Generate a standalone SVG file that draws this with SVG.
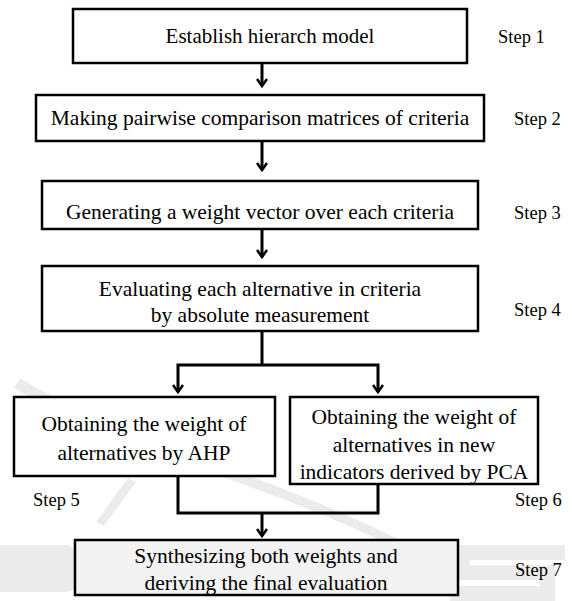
<svg xmlns="http://www.w3.org/2000/svg" width="572" height="601" viewBox="0 0 572 601">
<style>
.box{fill:#fff;stroke:#000;stroke-width:2.5}
.c{fill:none;stroke:#000;stroke-width:3}
.wm{fill:#ebebeb}
</style>
<defs>
<marker id="ah" viewBox="0 0 12 12" refX="9" refY="6" markerWidth="12" markerHeight="12" markerUnits="userSpaceOnUse" orient="auto-start-reverse">
<polyline points="2,1 9,6 2,11" fill="none" stroke="#000" stroke-width="2.6"/>
</marker>
</defs>
<g id="watermark">
<path d="M20,378 C120,440 260,470 400,540 L396,548 C255,478 115,450 14,388 Z" class="wm"/>
<path d="M96,522 L128,478 L136,482 L104,526 Z" class="wm"/>
<path d="M0,545 L62,545 Q80,545 80,562 L80,575 Q80,592 62,592 L0,592 Z" class="wm"/>
<path d="M450,545 L565,545 L565,560 L470,560 L470,565 L555,565 L555,601 L450,601 L450,586 L540,586 L540,580 L450,580 Z" class="wm"/>
</g>
<g id="connectors">
<line class="c" x1="262" y1="63" x2="262" y2="86" marker-end="url(#ah)"/>
<line class="c" x1="262" y1="141" x2="262" y2="170" marker-end="url(#ah)"/>
<line class="c" x1="262" y1="229" x2="262" y2="257" marker-end="url(#ah)"/>
<polyline class="c" points="262,331 262,365"/>
<polyline class="c" points="178,392 178,365 378,365 378,392" marker-start="url(#ah)" marker-end="url(#ah)"/>
<polyline class="c" points="178,476 178,513 378,513 378,484"/>
<line class="c" x1="262" y1="513" x2="262" y2="536" marker-end="url(#ah)"/>
</g>
<g id="step1">
<rect class="box" x="73" y="9" width="394" height="54"/>
<text font-family="Liberation Serif" font-size="21" text-anchor="middle" x="270" y="43">Establish hierarch model</text>
<text font-family="Liberation Serif" font-size="18.5" x="498" y="43">Step 1</text>
</g>
<g id="step2">
<rect class="box" x="36" y="95" width="448" height="46"/>
<text font-family="Liberation Serif" font-size="21.5" text-anchor="middle" x="260" y="125">Making pairwise comparison matrices of criteria</text>
<text font-family="Liberation Serif" font-size="18.5" x="514" y="125">Step 2</text>
</g>
<g id="step3">
<rect class="box" x="42" y="181" width="436" height="48"/>
<text font-family="Liberation Serif" font-size="21.5" text-anchor="middle" x="260" y="219">Generating a weight vector over each criteria</text>
<text font-family="Liberation Serif" font-size="18.5" x="514" y="219">Step 3</text>
</g>
<g id="step4">
<rect class="box" x="42" y="266" width="436" height="65"/>
<text font-family="Liberation Serif" font-size="21.5" text-anchor="middle" x="260" y="296">Evaluating each alternative in criteria</text>
<text font-family="Liberation Serif" font-size="21.5" text-anchor="middle" x="260" y="322">by absolute measurement</text>
<text font-family="Liberation Serif" font-size="18.5" x="514" y="316">Step 4</text>
</g>
<g id="step5">
<rect class="box" x="14" y="397" width="261" height="79"/>
<text font-family="Liberation Serif" font-size="21.5" text-anchor="middle" x="144" y="431">Obtaining the weight of</text>
<text font-family="Liberation Serif" font-size="21.5" text-anchor="middle" x="144" y="460">alternatives by AHP</text>
<text font-family="Liberation Serif" font-size="18.5" x="33" y="506">Step 5</text>
</g>
<g id="step6">
<rect class="box" x="290" y="397" width="248" height="87"/>
<text font-family="Liberation Serif" font-size="21.5" text-anchor="middle" x="414" y="424">Obtaining the weight of</text>
<text font-family="Liberation Serif" font-size="21.5" text-anchor="middle" x="414" y="452">alternatives in new</text>
<text font-family="Liberation Serif" font-size="21.5" text-anchor="middle" x="414" y="479">indicators derived by PCA</text>
<text font-family="Liberation Serif" font-size="18.5" x="515" y="506">Step 6</text>
</g>
<g id="step7">
<rect class="box" x="75" y="540" width="383" height="55" style="fill:#f3f3f3"/>
<text font-family="Liberation Serif" font-size="21.5" text-anchor="middle" x="266" y="563">Synthesizing both weights and</text>
<text font-family="Liberation Serif" font-size="21.5" text-anchor="middle" x="266" y="590">deriving the final evaluation</text>
<text font-family="Liberation Serif" font-size="18.5" x="515" y="576">Step 7</text>
</g>
</svg>
